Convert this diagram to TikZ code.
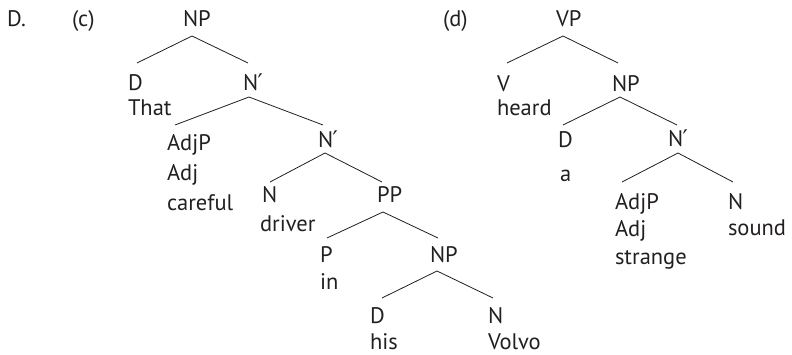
\documentclass[tikz,border=0pt]{standalone}
\usepackage{fontspec}
\setmainfont{PT Sans}
\newfontfamily\primefont{DejaVu Sans}
\definecolor{ink}{HTML}{231F20}
\newcommand{\Nbar}{N\kern-0.5pt{\primefont\fontsize{23}{27}\selectfont ′}}
\tikzset{
  lab/.style={anchor=base west, inner sep=0pt, outer sep=0pt, text=ink, font=\fontsize{22.5}{27}\selectfont},
  branch/.style={draw=ink, line width=0.8pt}
}
\begin{document}
\begin{tikzpicture}[x=1pt,y=-1pt]
\useasboundingbox (0,0) rectangle (792,355);
% headings
\node[lab] (Dlab) at (7,27) {D.};
\node[lab] (clab) at (72,27) {(c)};
\node[lab] (dlab) at (443,27) {(d)};
% tree c
\node[lab] (cNP) at (183,27) {NP};
\node[lab] (cD) at (128,91) {D};
\node[lab] (cThat) at (128,116) {That};
\node[lab] (cNb1) at (243,91) {\Nbar};
\node[lab] (cAdjP) at (167,151) {AdjP};
\node[lab] (cAdj) at (167,181) {Adj};
\node[lab] (ccareful) at (167,211) {careful};
\node[lab] (cNb2) at (318,148) {\Nbar};
\node[lab] (cN) at (262,203) {N};
\node[lab] (cdriver) at (260,232) {driver};
\node[lab] (cPP) at (377,203) {PP};
\node[lab] (cP) at (320,263) {P};
\node[lab] (cin) at (320,290) {in};
\node[lab] (cNP2) at (430,263) {NP};
\node[lab] (cD2) at (370,323) {D};
\node[lab] (chis) at (370,349) {his};
\node[lab] (cN2) at (488,323) {N};
\node[lab] (cVolvo) at (488,349) {Volvo};
% tree d
\node[lab] (dVP) at (556,27) {VP};
\node[lab] (dV) at (497,92) {V};
\node[lab] (dheard) at (497,116) {heard};
\node[lab] (dNP) at (612,92) {NP};
\node[lab] (dD) at (558,148) {D};
\node[lab] (da) at (560,182) {a};
\node[lab] (dNb) at (668,147) {\Nbar};
\node[lab] (dAdjP) at (615,210) {AdjP};
\node[lab] (dAdj) at (615,237) {Adj};
\node[lab] (dstrange) at (615,265) {strange};
\node[lab] (dN) at (728,210) {N};
\node[lab] (dsound) at (728,236) {sound};
% branch end points (c)
\coordinate (cNP-b) at (192,36);
\coordinate (cD-t) at (137,63);
\coordinate (cNb1-t) at (248,63);
\coordinate (cNb1-b) at (249,97);
\coordinate (cAdjP-t) at (175,125);
\coordinate (cNb2-t) at (323,125);
\coordinate (cNb2-b) at (325,153);
\coordinate (cN-t) at (270,182);
\coordinate (cPP-t) at (382,182);
\coordinate (cPP-b) at (383,212);
\coordinate (cP-t) at (327,238);
\coordinate (cNP2-t) at (438,238);
\coordinate (cNP2-b) at (437,271);
\coordinate (cD2-t) at (382,298);
\coordinate (cN2-t) at (493,298);
% branch end points (d)
\coordinate (dVP-b) at (563,36);
\coordinate (dV-t) at (507,63);
\coordinate (dNP-t) at (618,63);
\coordinate (dNP-b) at (620,97);
\coordinate (dD-t) at (563,125);
\coordinate (dNb-t) at (677,125);
\coordinate (dNb-b) at (678,153);
\coordinate (dAdjP-t) at (622,182);
\coordinate (dN-t) at (733,182);
% branches
\draw[branch] (cD-t) -- (cNP-b) -- (cNb1-t);
\draw[branch] (cAdjP-t) -- (cNb1-b) -- (cNb2-t);
\draw[branch] (cN-t) -- (cNb2-b) -- (cPP-t);
\draw[branch] (cP-t) -- (cPP-b) -- (cNP2-t);
\draw[branch] (cD2-t) -- (cNP2-b) -- (cN2-t);
\draw[branch] (dV-t) -- (dVP-b) -- (dNP-t);
\draw[branch] (dD-t) -- (dNP-b) -- (dNb-t);
\draw[branch] (dAdjP-t) -- (dNb-b) -- (dN-t);
\end{tikzpicture}
\end{document}
